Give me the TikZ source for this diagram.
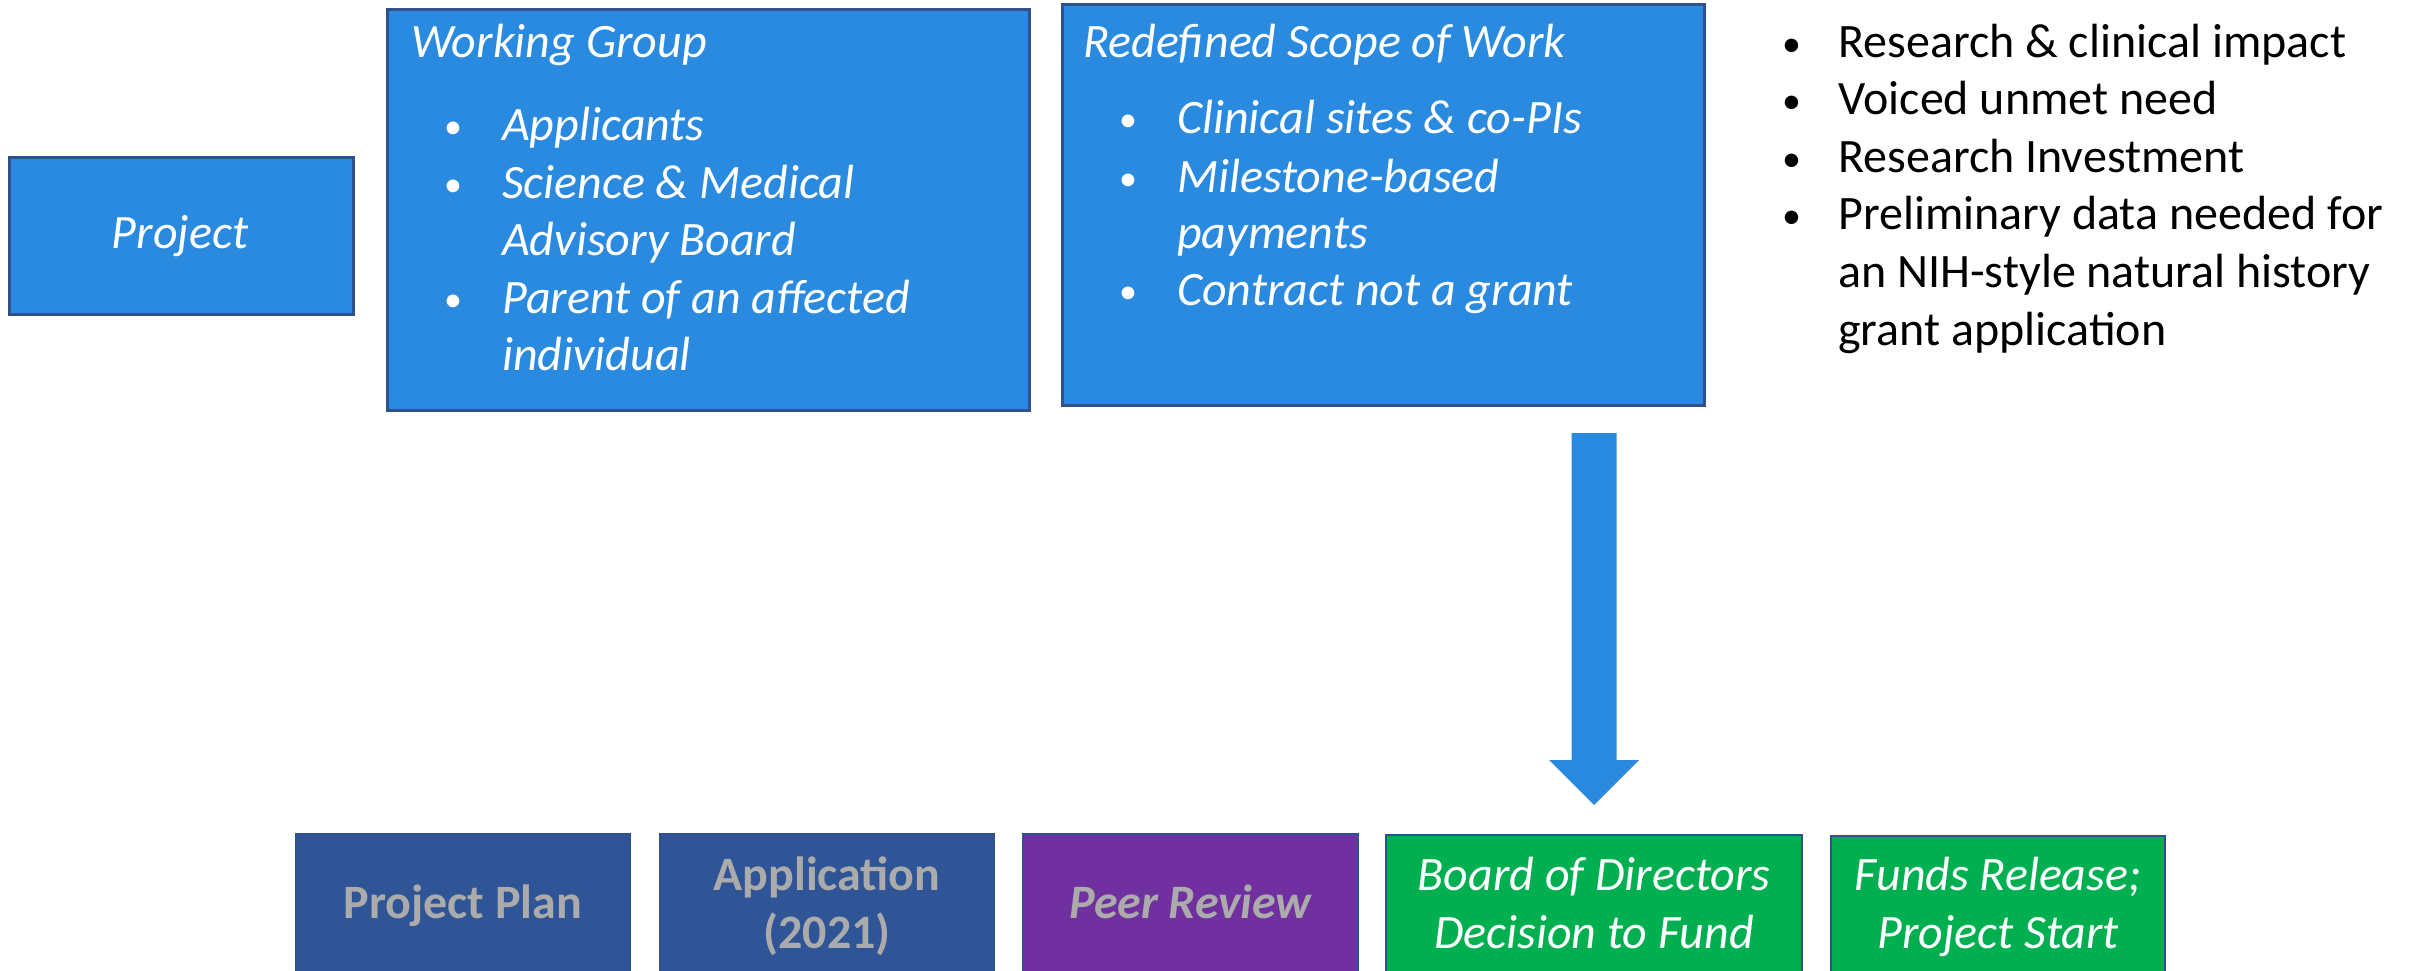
\documentclass[tikz,border=0pt]{standalone}
\usepackage{fontspec}
\setmainfont{Carlito}
\usetikzlibrary{calc}
\definecolor{boxblue}{HTML}{2A8ADF}
\definecolor{edgeblue}{HTML}{2F528F}
\definecolor{darkblue}{HTML}{2F5597}
\definecolor{purp}{HTML}{7030A0}
\definecolor{grn}{HTML}{00B050}
\definecolor{txtgray}{HTML}{ABABAB}
\begin{document}
\begin{tikzpicture}[x=1pt,y=-1pt,
  bluebox/.style={draw=edgeblue, line width=2.5pt, fill=boxblue, inner sep=0pt, anchor=north west},
  stagebox/.style={draw=edgeblue, line width=2pt, inner sep=0pt, anchor=north west, minimum height=160pt},
  wtxt/.style={text=white, font=\fontsize{48}{57}\selectfont\itshape, inner sep=0pt, anchor=base west},
  wbul/.style={text=white, font=\fontsize{36}{57}\selectfont, inner sep=0pt, anchor=base west},
  bbul/.style={text=black, font=\fontsize{38}{57}\selectfont, inner sep=0pt, anchor=base west},
  btxt/.style={text=black, font=\fontsize{48}{57}\selectfont, inner sep=0pt, anchor=base west},
  gtxt/.style={text=txtgray, font=\fontsize{48}{57}\selectfont\bfseries, inner sep=0pt, anchor=base},
  gitxt/.style={text=txtgray, font=\fontsize{48}{57}\selectfont\bfseries\itshape, inner sep=0pt, anchor=base},
  witxt/.style={text=white, font=\fontsize{48}{57}\selectfont\itshape, inner sep=0pt, anchor=base}]
\useasboundingbox (0,0) rectangle (2415,970);
\clip (0,0) rectangle (2415,970);

% top boxes
\node[bluebox, minimum width=344pt, minimum height=157pt] (proj) at (8,156) {};
\node[witxt] (projt) at (180,248) {Project};

\node[bluebox, minimum width=642pt, minimum height=401pt] (wg) at (386,8) {};
\node[wtxt] (wgt) at (411,57) {Working Group};
\node[wbul] (wgb1) at (444,138) {•};
\node[wtxt] (wg1) at (502,140) {Applicants};
\node[wbul] (wgb2) at (444,196) {•};
\node[wtxt] (wg2) at (502,198) {Science \& Medical};
\node[wtxt] (wg2b) at (502,255) {Advisory Board};
\node[wbul] (wgb3) at (444,311) {•};
\node[wtxt] (wg3) at (502,313) {Parent of an affected};
\node[wtxt] (wg3b) at (502,370) {individual};

\node[bluebox, minimum width=642pt, minimum height=401pt] (rs) at (1061,3) {};
\node[wtxt] (rst) at (1083,57) {Redefined Scope of Work};
\node[wbul] (rsb1) at (1119,131) {•};
\node[wtxt] (rs1) at (1177,133) {Clinical sites \& co-PIs};
\node[wbul] (rsb2) at (1119,190) {•};
\node[wtxt] (rs2) at (1177,192) {Milestone-based};
\node[wtxt] (rs2b) at (1177,248) {payments};
\node[wbul] (rsb3) at (1119,303) {•};
\node[wtxt] (rs3) at (1177,305) {Contract not a grant};

% right list
\node[bbul] (rb1) at (1782,56) {•};
\node[btxt] (r1) at (1838,57) {Research \& clinical impact};
\node[bbul] (rb2) at (1782,113) {•};
\node[btxt] (r2) at (1838,114) {Voiced unmet need};
\node[bbul] (rb3) at (1782,171) {•};
\node[btxt] (r3) at (1838,172) {Research Investment};
\node[bbul] (rb4) at (1782,228) {•};
\node[btxt] (r4) at (1838,229) {Preliminary data needed for};
\node[btxt] (r4b) at (1838,287) {an NIH-style natural history};
\node[btxt] (r4c) at (1838,345) {grant application};

% bottom stages
\node[stagebox, fill=darkblue, minimum width=334pt] (pp) at (295,833) {};
\node[gtxt] (ppt) at ($(pp.north)+(0,85)$) {Project Plan};
\node[stagebox, fill=darkblue, minimum width=334pt] (app) at (659,833) {};
\node[gtxt] (appt) at ($(app.north)+(0,57)$) {Application};
\node[gtxt] (appt2) at ($(app.north)+(0,115)$) {(2021)};
\node[stagebox, fill=purp, minimum width=335pt] (pr) at (1022,833) {};
\node[gitxt] (prt) at ($(pr.north)+(0,85)$) {Peer Review};
\node[stagebox, fill=grn, minimum width=416pt] (bod) at (1385,834) {};
\node[witxt] (bodt) at ($(bod.north)+(0,56)$) {Board of Directors};
\node[witxt] (bodt2) at ($(bod.north)+(0,114)$) {Decision to Fund};
\node[stagebox, fill=grn, minimum width=334pt] (fr) at (1830,835) {};
\node[witxt] (frt) at ($(fr.north)+(0,55)$) {Funds Release;};
\node[witxt] (frt2) at ($(fr.north)+(0,113)$) {Project Start};

% block arrow down to board
\coordinate (tip) at ($(bod.north)+(0,-29)$);
\fill[boxblue] ($(tip)+(-22.5,-372)$) -- ($(tip)+(22.5,-372)$) -- ($(tip)+(22.5,-45)$)
  -- ($(tip)+(45,-45)$) -- (tip) -- ($(tip)+(-45,-45)$) -- ($(tip)+(-22.5,-45)$) -- cycle;
\end{tikzpicture}
\end{document}
